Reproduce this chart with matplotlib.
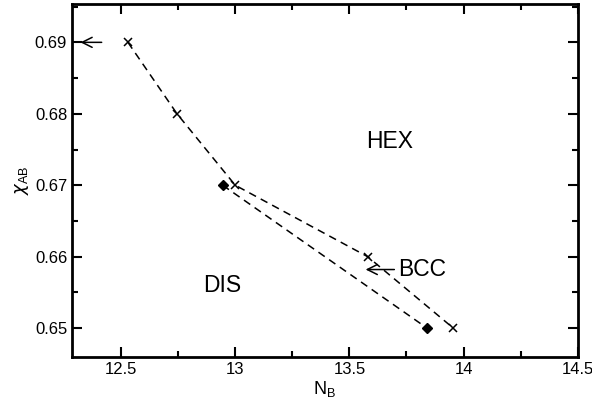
import matplotlib.pyplot as plt
from matplotlib.ticker import MultipleLocator

plt.rcParams["font.family"] = ["Liberation Sans", "DejaVu Sans"]

# --------------------------------------------------
# Phase boundary data
# --------------------------------------------------
hex_nb = [12.53, 12.745, 13.0, 13.58, 13.955]
hex_chi = [0.69, 0.68, 0.67, 0.66, 0.65]

bcc_nb = [12.945, 13.84]
bcc_chi = [0.67, 0.65]

# --------------------------------------------------
# Plot
# --------------------------------------------------
fig = plt.figure(figsize=(5.92, 4.07), dpi=100)
ax = fig.add_axes([0.1216, 0.1236, 0.8543, 0.8654])

ax.plot(hex_nb, hex_chi, color="black", linestyle="--", dashes=(5, 3.5),
        linewidth=1.1, marker="x", markersize=6, markeredgewidth=1.1)
ax.plot(bcc_nb, bcc_chi, color="black", linestyle="--", dashes=(5, 3.5),
        linewidth=1.1, marker="D", markersize=5.5)

ax.annotate("", xy=(12.322, 0.69), xytext=(12.415, 0.69),
            arrowprops=dict(arrowstyle="->", color="black", lw=1.1,
                            mutation_scale=18, shrinkA=0, shrinkB=0))
ax.annotate("BCC", xy=(13.571, 0.6582), xytext=(13.715, 0.6582),
            fontsize=16.5, va="center", ha="left",
            arrowprops=dict(arrowstyle="->", color="black", lw=1.1,
                            mutation_scale=18, shrinkA=1, shrinkB=0))

ax.text(13.676, 0.6761, "HEX", fontsize=16.5, ha="center", va="center")
ax.text(12.943, 0.6559, "DIS", fontsize=16.5, ha="center", va="center")

ax.set_xlim(12.285, 14.5)
ax.set_ylim(0.646, 0.6953)
ax.xaxis.set_minor_locator(MultipleLocator(0.25))
ax.yaxis.set_minor_locator(MultipleLocator(0.005))
ax.set_xticks([12.5, 13, 13.5, 14, 14.5])
ax.set_xticklabels(["12.5", "13", "13.5", "14", "14.5"])
ax.set_yticks([0.65, 0.66, 0.67, 0.68, 0.69])
ax.set_yticklabels(["0.65", "0.66", "0.67", "0.68", "0.69"])

ax.tick_params(which="both", direction="in", top=True, right=True,
               width=1.5, labelsize=12)
ax.tick_params(which="major", length=7.5)
ax.tick_params(which="minor", length=4)
for s in ax.spines.values():
    s.set_linewidth(2)

ax.set_xlabel(r"N$_\mathregular{B}$", fontsize=13, labelpad=2)
ax.set_ylabel(r"$\chi_\mathregular{AB}$", fontsize=13, labelpad=3)

plt.savefig("out.png", dpi=100)
